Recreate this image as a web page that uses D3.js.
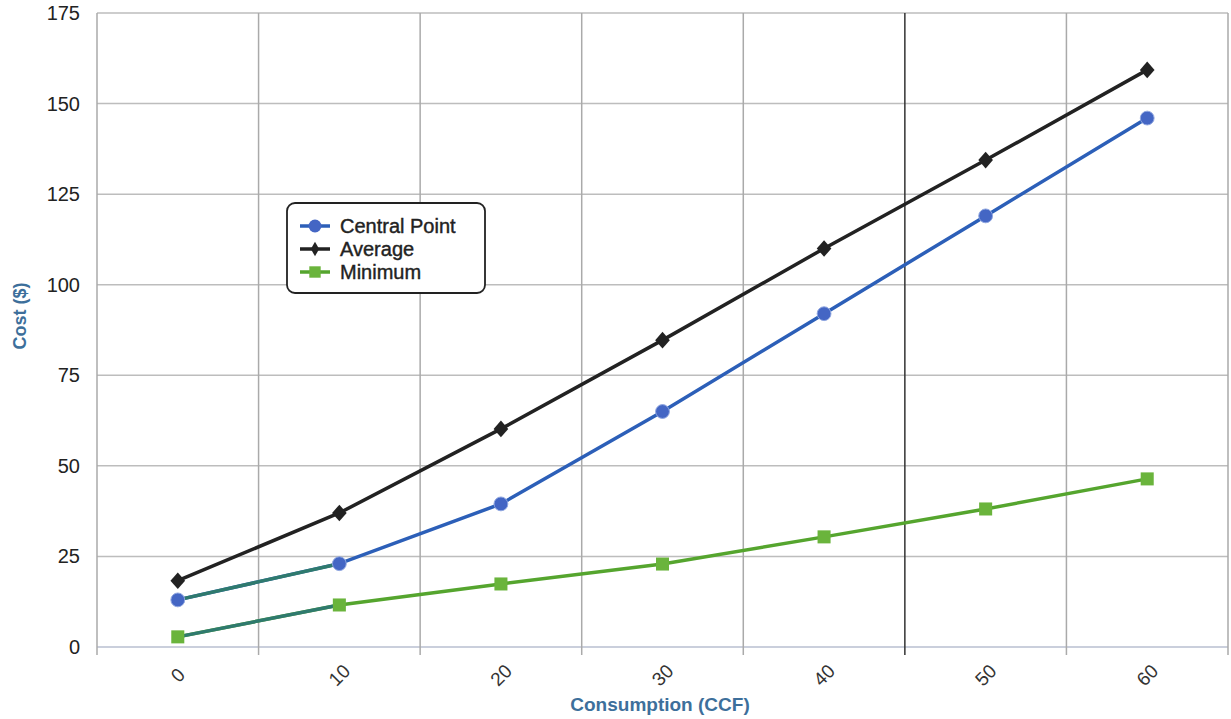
<!DOCTYPE html>
<html><head><meta charset="utf-8">
<script src="https://cdn.jsdelivr.net/npm/d3@7"></script>
<style>body{margin:0;background:#fff}svg{font-family:"Liberation Sans",Arial,sans-serif}</style>
</head><body><svg id="c" width="1231" height="719"></svg>
<script>
const categories = ["0","10","20","30","40","50","60"];
const centralPoint = [13, 23, 39.5, 65, 92, 119, 146];
const average = [18.3, 37, 60.2, 84.7, 110, 134.4, 159.3];
const minimum = [2.8, 11.6, 17.4, 22.9, 30.4, 38.1, 46.4];
const yTicks = [0,25,50,75,100,125,150,175];

const svg = d3.select("#c");
const L=97,R=1228,T=13,B=647;
const x = d3.scaleBand().domain(categories).range([L,R]);
const y = d3.scaleLinear().domain([0,175]).range([B,T]);

// gridlines
svg.append("g").selectAll("line").data(yTicks).join("line")
  .attr("x1",L).attr("x2",R).attr("y1",d=>y(d)).attr("y2",d=>y(d))
  .attr("stroke",d=>d===0?"#b8bfd0":"#bdbdbd").attr("stroke-width",1.5);
const vb = categories.map(c=>x(c)).concat([R]);
svg.append("g").selectAll("line").data(vb).join("line")
  .attr("x1",d=>d).attr("x2",d=>d).attr("y1",T).attr("y2",B+8)
  .attr("stroke",(d,i)=>i===5?"#333":"#aaa").attr("stroke-width",1.5);

// y axis labels
svg.append("g").selectAll("text").data(yTicks).join("text")
  .attr("x",80).attr("y",d=>y(d)+7).attr("text-anchor","end")
  .attr("font-size",20).attr("fill","#222").text(d=>d);
// x labels
svg.append("g").selectAll("text").data(categories).join("text")
  .attr("transform",d=>`translate(${x(d)+x.bandwidth()/2},${B+28}) rotate(-45)`)
  .attr("text-anchor","middle").attr("dy","0.35em")
  .attr("font-size",19).attr("fill","#333").text(d=>d);

svg.append("text").attr("x",660).attr("y",711).attr("text-anchor","middle")
  .attr("font-size",19).attr("font-weight","bold").attr("fill","#3d6f9b").text("Consumption (CCF)");
svg.append("text").attr("transform","translate(26,316) rotate(-90)").attr("text-anchor","middle")
  .attr("font-size",18).attr("font-weight","bold").attr("fill","#3d6f9b").text("Cost ($)");

const cx = c=>x(c)+x.bandwidth()/2;
const line = d3.line().x(d=>cx(d.c)).y(d=>y(d.v));
const series = [
  {name:"Average", vals:average, color:"#222", mark:"diamond", mcol:"#222"},
  {name:"Central Point", vals:centralPoint, color:"#2c5fb8", mark:"circle", mcol:"#4466c4", first:"#2f7a6e"},
  {name:"Minimum", vals:minimum, color:"#55a52e", mark:"square", mcol:"#6ab43c", first:"#2f7a6e"}
];
series.forEach(s=>{
  const pts = categories.map((c,i)=>({c,v:s.vals[i]}));
  svg.append("path").attr("d",line(pts)).attr("fill","none").attr("stroke",s.color).attr("stroke-width",3.5);
  if(s.first) svg.append("path").attr("d",line(pts.slice(0,2))).attr("fill","none").attr("stroke",s.first).attr("stroke-width",3.5);
});
series.forEach(s=>{
  const pts = categories.map((c,i)=>({c,v:s.vals[i]}));
  const sym = s.mark==="circle"?d3.symbolCircle:s.mark==="square"?d3.symbolSquare:d3.symbolDiamond;
  const size = s.mark==="circle"?150:s.mark==="square"?170:110;
  svg.append("g").selectAll("path").data(pts).join("path")
    .attr("transform",d=>`translate(${cx(d.c)},${y(d.v)})${s.mark==="diamond"?" scale(1.3,0.85)":""}`)
    .attr("d",d3.symbol(sym,size)).attr("fill",s.mcol)
    .attr("stroke",s.mark==="circle"?"#8fa6e0":"none").attr("stroke-width",1);
});

// legend
const lg = svg.append("g");
lg.append("rect").attr("x",287).attr("y",203).attr("width",198).attr("height",90).attr("rx",8)
  .attr("fill","#fff").attr("stroke","#222").attr("stroke-width",1.8);
const legendItems = [series[1],series[0],series[2]];
legendItems.forEach((s,i)=>{
  const yy = 226 + i*23;
  lg.append("line").attr("x1",300).attr("x2",330).attr("y1",yy).attr("y2",yy).attr("stroke",s.color).attr("stroke-width",3.5);
  const sym = s.mark==="circle"?d3.symbolCircle:s.mark==="square"?d3.symbolSquare:d3.symbolDiamond;
  lg.append("path").attr("transform",`translate(315,${yy})`).attr("d",d3.symbol(sym,s.mark==="diamond"?60:130)).attr("fill",s.mcol);
  lg.append("text").attr("x",340).attr("y",yy+7).attr("font-size",20).attr("fill","#222")
    .attr("stroke","#222").attr("stroke-width",0.4).text(s.name);
});
</script></body></html>
